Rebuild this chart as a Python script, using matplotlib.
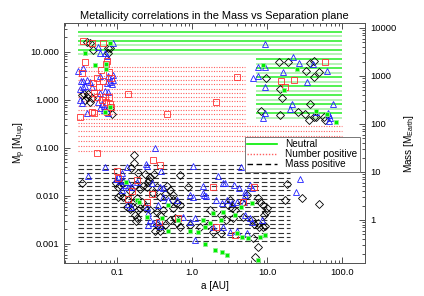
import numpy as np
import matplotlib
matplotlib.use('Agg')
import matplotlib.pyplot as plt
from matplotlib.lines import Line2D
from matplotlib.ticker import FormatStrFormatter, LogLocator, NullFormatter, FixedLocator, FixedFormatter

plt.rcParams['font.family'] = ['Liberation Sans', 'DejaVu Sans']
plt.rcParams['mathtext.fontset'] = 'custom'
plt.rcParams['mathtext.rm'] = 'Liberation Sans'
plt.rcParams['mathtext.it'] = 'Liberation Sans'

MJUP_TO_MEARTH = 317.8

# hatched regions: a_min, a_max, M_min, M_max [M_Jup], number of lines
neutral_regions = [(0.03, 100.0, 9.0, 26.0, 6),
                   (7.0, 100.0, 0.42, 7.1, 14)]
number_regions = [(0.03, 5.0, 0.33, 4.84, 14),
                  (0.03, 100.0, 0.086, 0.28, 6)]
mass_regions = [(0.03, 20.0, 0.00115, 0.044, 19)]

# planets: (a [AU], M [M_Jup])
black_pts = [
    (0.040, 16.1), (0.043, 15.5), (0.076, 12.0), (0.076, 9.4), (0.081, 12.0), (0.048, 10.9),
    (0.034, 1.27), (0.040, 1.15), (0.046, 1.10), (0.037, 1.0), (0.044, 0.91), (0.081, 0.68),
    (0.086, 0.51), (0.036, 1.33), (0.041, 1.30),
    (14.5, 6.1), (19.1, 6.1), (37, 5.8), (42, 6.3), (33, 4.0), (49, 3.8), (9.7, 2.85),
    (42, 3.0), (14.9, 1.68), (15.9, 1.10), (37, 0.83), (8.3, 0.59), (25.9, 0.56), (14.9, 0.49),
    (32, 0.51), (42, 0.44), (45, 0.44), (57, 0.44), (36, 0.38), (59, 0.38),
    (0.034, 0.0186), (0.168, 0.071), (0.168, 0.048), (0.154, 0.038), (0.191, 0.030),
    (0.236, 0.0286), (0.312, 0.0286), (0.275, 0.0248), (0.267, 0.0214), (0.259, 0.0195),
    (0.097, 0.0186), (0.110, 0.0169), (0.120, 0.0186), (0.103, 0.0153), (0.174, 0.0169),
    (0.203, 0.0139), (0.222, 0.0161), (0.251, 0.0153), (0.342, 0.0153), (0.46, 0.0161),
    (0.51, 0.0133), (0.149, 0.0127), (0.110, 0.0104), (0.120, 0.0095), (0.103, 0.0095),
    (0.302, 0.0115), (0.375, 0.0095), (0.44, 0.0110), (0.56, 0.0104), (0.140, 0.0082),
    (0.158, 0.0071), (0.185, 0.0091), (0.215, 0.0075), (0.163, 0.0059), (0.203, 0.0056),
    (0.136, 0.0059), (0.149, 0.0054), (0.191, 0.0051), (0.236, 0.0056), (0.275, 0.0051),
    (0.342, 0.0047), (0.41, 0.0051), (0.56, 0.0056), (0.174, 0.0040), (0.185, 0.0035),
    (0.179, 0.0030), (0.375, 0.0040), (0.51, 0.0031), (0.59, 0.0035), (0.342, 0.0025),
    (0.375, 0.0023), (0.44, 0.0025), (0.63, 0.0027), (0.321, 0.0019), (0.375, 0.0019),
    (0.69, 0.0272), (0.88, 0.0153), (0.56, 0.0082), (0.63, 0.0071), (0.69, 0.0065),
    (3.2, 0.0082), (3.0, 0.0065), (3.4, 0.0056), (3.7, 0.0051), (4.6, 0.0071), (5.4, 0.0104),
    (7.4, 0.0091), (8.1, 0.0075), (8.8, 0.0065), (10, 0.0056), (9.1, 0.0040), (1.74, 0.0051),
    (2.4, 0.0040), (2.8, 0.0031), (3.5, 0.0035), (4.8, 0.0037), (6.3, 0.0031), (7.4, 0.0027),
    (8.8, 0.0023), (0.69, 0.0022), (0.94, 0.0025), (1.28, 0.0023), (1.63, 0.0025),
    (1.9, 0.0018), (2.4, 0.0017), (6.5, 0.0013), (7.6, 0.00086), (6.9, 0.00053),
    (18, 0.0177), (29, 0.0091), (48, 0.0068), (17, 0.0082), (9.7, 0.0047), (6.7, 0.0026),
    (7.8, 0.0023), (9.4, 0.0024),
]
blue_pts = [
    (0.088, 15.2), (0.056, 12.6), (0.059, 9.4), (0.069, 9.4), (0.074, 8.1), (0.035, 4.6),
    (0.030, 4.0), (0.059, 3.1), (0.076, 3.1), (0.088, 3.3), (0.081, 2.35), (0.088, 2.6),
    (0.086, 2.15), (0.033, 2.5), (0.035, 2.5), (0.040, 2.6), (0.037, 1.95), (0.032, 1.68),
    (0.035, 1.85), (0.046, 1.85), (0.044, 2.35), (0.074, 2.25), (0.069, 1.53), (0.076, 1.46),
    (0.059, 1.39), (0.032, 1.0), (0.034, 0.87), (0.056, 0.91), (0.063, 0.83), (0.067, 0.75),
    (0.059, 0.68), (0.076, 0.54), (0.067, 0.62), (0.040, 0.54), (0.32, 0.10),
    (9.4, 14.6), (22.2, 7.8), (26.7, 5.8), (41, 5.5), (7.6, 4.8), (9.4, 4.8), (16.4, 3.8),
    (63, 4.0), (6.5, 2.85), (7.4, 3.1), (34, 2.35), (9.4, 1.85), (21.5, 0.83), (20.3, 0.65),
    (75, 0.83), (9.4, 0.54), (45, 0.56), (8.8, 0.42), (67, 0.49), (69, 0.42), (67, 0.36),
    (65, 0.54),
    (0.041, 0.026), (0.069, 0.040), (0.244, 0.046), (0.251, 0.042), (0.136, 0.040),
    (0.386, 0.033), (0.117, 0.030), (0.097, 0.0225), (0.103, 0.0248), (0.110, 0.0204),
    (0.120, 0.0214), (0.140, 0.0195), (0.128, 0.0169), (0.140, 0.0153), (0.158, 0.0153),
    (0.185, 0.0195), (0.293, 0.0186), (0.375, 0.0153), (0.41, 0.0146), (0.117, 0.0133),
    (0.41, 0.0095), (0.48, 0.0082), (0.63, 0.0082), (0.140, 0.0068), (0.154, 0.0059),
    (0.251, 0.0059), (0.353, 0.0065), (0.259, 0.0044), (0.275, 0.0031), (0.302, 0.0027),
    (0.353, 0.0029), (0.375, 0.0024), (0.259, 0.0025), (1.03, 0.042), (4.4, 0.040),
    (2.2, 0.026), (1.4, 0.0161), (2.6, 0.0186), (1.4, 0.0115), (1.45, 0.0104), (1.54, 0.0100),
    (0.94, 0.0104), (1.03, 0.0095), (2.1, 0.0082), (2.5, 0.0071), (2.9, 0.0082), (4.0, 0.0075),
    (0.76, 0.0037), (0.94, 0.0029), (1.1, 0.0035), (1.9, 0.0023), (2.6, 0.0023), (3.2, 0.0018),
    (4.0, 0.0019), (5.4, 0.0017), (1.1, 0.0012), (27, 0.0225), (24, 0.0121), (5.8, 0.0169),
    (6.3, 0.0146), (5.1, 0.0121), (2.7, 0.0186), (3.6, 0.0169), (4.2, 0.0146), (5.1, 0.0104),
    (3.4, 0.0071), (4.9, 0.0075), (5.1, 0.0040), (5.8, 0.0035), (6.3, 0.0029), (8.6, 0.0031),
]
red_pts = [
    (0.035, 16.9), (0.046, 15.2), (0.065, 15.2), (0.074, 6.3), (0.071, 5.5), (0.037, 6.1),
    (0.061, 4.2), (0.034, 3.6), (0.078, 3.8), (0.083, 2.85), (0.065, 2.5), (0.054, 2.85),
    (0.048, 2.25), (0.058, 1.85), (0.049, 1.39), (0.054, 1.15), (0.069, 1.15), (0.078, 1.15),
    (0.081, 0.83), (0.083, 0.72), (0.074, 0.56), (0.032, 0.44), (0.046, 0.56), (0.049, 0.54),
    (0.14, 1.33), (0.46, 0.51), (0.054, 0.078), (0.063, 1.0), (0.071, 0.91),
    (59, 6.1), (4.0, 3.0), (15.4, 2.5), (22.9, 2.6), (17.4, 1.85), (2.1, 0.91),
    (0.302, 0.056), (0.375, 0.044), (0.100, 0.033), (0.103, 0.0236), (0.185, 0.0214),
    (0.158, 0.0127), (0.293, 0.0110), (0.140, 0.0086), (0.251, 0.0075), (0.363, 0.0029),
    (0.65, 0.0035), (1.9, 0.0153), (6.7, 0.0153), (4.8, 0.0075), (2.1, 0.0022), (3.7, 0.0015),
]
green_pts = [
    (0.081, 15.2), (0.037, 9.4), (0.051, 5.3), (0.071, 5.5), (0.071, 4.4), (0.069, 0.56),
    (0.081, 0.72),
    (8.8, 5.3), (25.1, 4.4), (16.9, 1.6), (45, 0.59), (63, 0.51), (83, 0.35),
    (0.132, 0.0195), (0.185, 0.0082), (0.196, 0.0075), (0.48, 0.0065), (0.251, 0.0037),
    (0.398, 0.0035), (0.48, 0.0019), (0.65, 0.0031), (4.4, 0.0059), (6.3, 0.0071),
    (1.9, 0.0044), (2.6, 0.0047), (3.7, 0.0040), (1.4, 0.0031), (1.74, 0.0027), (2.4, 0.0031),
    (0.94, 0.0019), (1.2, 0.0018), (1.49, 0.0023), (4.0, 0.0017), (4.6, 0.0014), (5.6, 0.0013),
    (8.1, 0.0014), (9.4, 0.0015), (1.49, 0.0010), (2.0, 0.00075), (2.5, 0.00068),
    (2.9, 0.00059), (7.6, 0.00046),
]

fig = plt.figure(figsize=(4.24, 2.96), dpi=100)
ax = fig.add_axes([0.151, 0.1115, 0.710, 0.811])
ax.set_xscale('log')
ax.set_yscale('log')
ax.set_xlim(0.0196, 200)
ax.set_ylim(0.0004, 40)


def hatch(regions, **kw):
    for a0, a1, m0, m1, n in regions:
        for m in np.logspace(np.log10(m1), np.log10(m0), n):
            ax.plot([a0, a1], [m, m], zorder=1, **kw)


for a0, a1, m0, m1, n in neutral_regions:
    for i, m in enumerate(np.logspace(np.log10(m1), np.log10(m0), n)):
        ax.plot([a0, a1], [m, m], color='#22ee22' if i % 2 == 0 else '#a0f0a0',
                lw=1.1, zorder=1, solid_capstyle='butt')
hatch(number_regions, color='#ff6060', lw=0.8, ls=(0, (1, 1.3)))
hatch(mass_regions, color='#333333', lw=0.8, ls=(0, (5, 2.5)))

mk = dict(ls='none', mfc='none', mew=0.6, zorder=3)
b = np.array(black_pts)
ax.plot(b[:, 0], b[:, 1], marker='D', ms=3.6, mec='black', **mk)
bl = np.array(blue_pts)
ax.plot(bl[:, 0], bl[:, 1], marker='^', ms=4.6, mec='#2020ff', **mk)
r = np.array(red_pts)
ax.plot(r[:, 0], r[:, 1], marker='s', ms=3.8, mec='#ff3030', **mk)
g = np.array(green_pts)
ax.plot(g[:, 0], g[:, 1], ls='none', marker='s', ms=2.8, mfc='#00ee00', mec='#90f090',
        mew=0.6, zorder=4)

ax.xaxis.set_major_formatter(FormatStrFormatter('%.1f'))
ax.yaxis.set_major_formatter(FormatStrFormatter('%.3f'))
ax.xaxis.set_major_locator(FixedLocator([0.1, 1, 10, 100]))
ax.yaxis.set_major_locator(FixedLocator([0.001, 0.01, 0.1, 1, 10]))
ax.xaxis.set_minor_locator(LogLocator(subs=np.arange(2, 10)))
ax.yaxis.set_minor_locator(LogLocator(subs=np.arange(2, 10)))
ax.xaxis.set_minor_formatter(NullFormatter())
ax.yaxis.set_minor_formatter(NullFormatter())
ax.tick_params(which='both', direction='in', top=True, right=False, labelsize=6.8,
               width=0.6, colors='#333333', labelcolor='black')
ax.tick_params(which='major', length=4)
ax.tick_params(which='minor', length=2)
for s in ax.spines.values():
    s.set_linewidth(0.7)
    s.set_color('#555555')

ax.set_xlabel('a [AU]', fontsize=7.2, labelpad=3)
ax.set_ylabel(r'M$_\mathrm{p}$ [M$_\mathrm{Jup}$]', fontsize=7.2, labelpad=2)
ax.set_title('Metallicity correlations in the Mass vs Separation plane', fontsize=7.9, pad=3)

ax2 = ax.twinx()
ax2.set_yscale('log')
ax2.set_ylim(0.0004 * MJUP_TO_MEARTH, 40 * MJUP_TO_MEARTH)
ax2.yaxis.set_major_locator(FixedLocator([1, 10, 100, 1000, 10000]))
ax2.yaxis.set_major_formatter(FixedFormatter(['1', '10', '100', '1000', '10000']))
ax2.yaxis.set_minor_locator(LogLocator(subs=np.arange(2, 10)))
ax2.yaxis.set_minor_formatter(NullFormatter())
ax2.tick_params(which='both', direction='in', labelsize=6.8, width=0.6, colors='#333333',
                labelcolor='black')
ax2.tick_params(which='major', length=4)
ax2.tick_params(which='minor', length=2)
ax2.set_ylabel(r'Mass [M$_\mathrm{Earth}$]', fontsize=7.2, labelpad=4)
for s in ax2.spines.values():
    s.set_linewidth(0.7)
    s.set_color('#555555')

handles = [Line2D([], [], color='#00ee00', lw=1.2),
           Line2D([], [], color='#ff6060', lw=1.0, ls=(0, (1, 1.2))),
           Line2D([], [], color='black', lw=1.0, ls=(0, (4, 2.5)))]
leg = ax2.legend(handles, ['Neutral', 'Number positive', 'Mass positive'],
                 loc='upper right', bbox_to_anchor=(0.982, 0.525), fontsize=7.2,
                 frameon=True, fancybox=False, edgecolor='#777777', framealpha=1,
                 borderpad=0.25, labelspacing=0.0, handlelength=3.0, handletextpad=0.8,
                 borderaxespad=0)
leg.get_frame().set_linewidth(0.7)
leg.set_zorder(10)

fig.savefig('out.png', dpi=100)
